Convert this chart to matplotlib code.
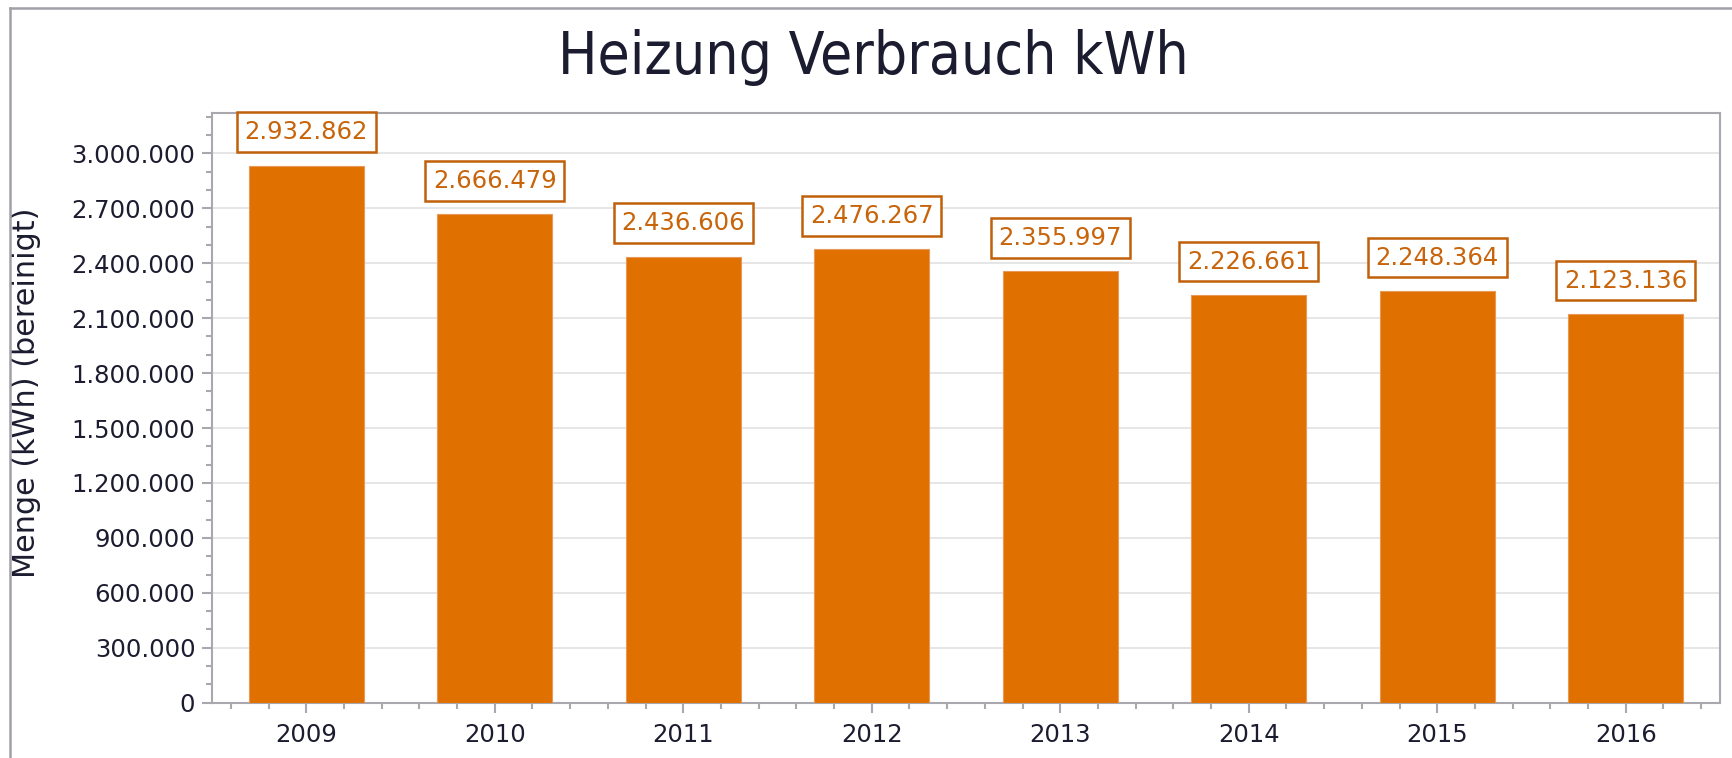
import matplotlib
matplotlib.use("Agg")
import matplotlib.pyplot as plt
from matplotlib.ticker import MultipleLocator, FuncFormatter
from matplotlib.lines import Line2D

years = ["2009", "2010", "2011", "2012", "2013", "2014", "2015", "2016"]
values = [2932862, 2666479, 2436606, 2476267, 2355997, 2226661, 2248364, 2123136]
title = "Heizung Verbrauch kWh"
ylabel = "Menge (kWh) (bereinigt)"

def de_fmt(v):
    return f"{int(round(v)):,}".replace(",", ".")

TEXT = "#1c1c30"
BAR = "#e07000"
LAB = "#c8640a"
GRAY = "#a8a8ae"

fig = plt.figure(figsize=(17.33, 7.58), dpi=100)
ax = fig.add_axes([212/1733, 1 - 702.7/758, (1720-212)/1733, (702.7-112.7)/758])

x = list(range(len(years)))
ax.bar(x, values, width=0.61, color=BAR, edgecolor="#e8995a", linewidth=0.8, zorder=3)

for xi, v in zip(x, values):
    ax.annotate(de_fmt(v), xy=(xi, v), xytext=(0, 15.4), textcoords="offset points",
                ha="center", va="bottom", fontsize=17.5, color=LAB, family="DejaVu Sans",
                bbox=dict(boxstyle="square,pad=0.32", fc="white", ec="#c0600a", lw=1.8),
                zorder=5)

ax.set_xlim(-0.5, len(years) - 0.5)
ax.set_ylim(0, 3222000)
ax.yaxis.set_major_locator(MultipleLocator(300000))
ax.yaxis.set_minor_locator(MultipleLocator(100000))
ax.yaxis.set_major_formatter(FuncFormatter(lambda v, p: de_fmt(v)))
ax.set_xticks(x)
ax.set_xticklabels(years)
ax.xaxis.set_minor_locator(MultipleLocator(0.2))

ax.grid(axis="y", which="major", color="#e4e4e4", linewidth=1.3, zorder=0)
ax.set_axisbelow(True)

for s in ax.spines.values():
    s.set_color(GRAY)
    s.set_linewidth(1.5)

ax.tick_params(axis="both", which="major", length=7.5, width=1.5, color=GRAY,
               labelsize=17.5, labelcolor=TEXT)
ax.tick_params(axis="both", which="minor", length=4.5, width=1.5, color=GRAY)
ax.tick_params(axis="y", which="major", pad=4.5)
ax.tick_params(axis="x", which="major", pad=7)

ax.set_ylabel(ylabel, fontsize=21.8, color=TEXT)
ax.yaxis.set_label_coords(-(212-41)/1508, 0.525)

fig.text(0.504, 1 - 74/758, title, ha="center", va="baseline", fontsize=42,
         color=TEXT, family="DejaVu Sans", fontstretch="condensed")

# outer frame
fig.add_artist(Line2D([9.5/1733, 1.0], [1 - 7.5/758, 1 - 7.5/758], transform=fig.transFigure,
                      color="#a0a0a8", lw=1.8))
fig.add_artist(Line2D([9.5/1733, 9.5/1733], [0.0, 1 - 7.5/758], transform=fig.transFigure,
                      color="#a0a0a8", lw=1.8))

fig.savefig("out.png", dpi=100)
